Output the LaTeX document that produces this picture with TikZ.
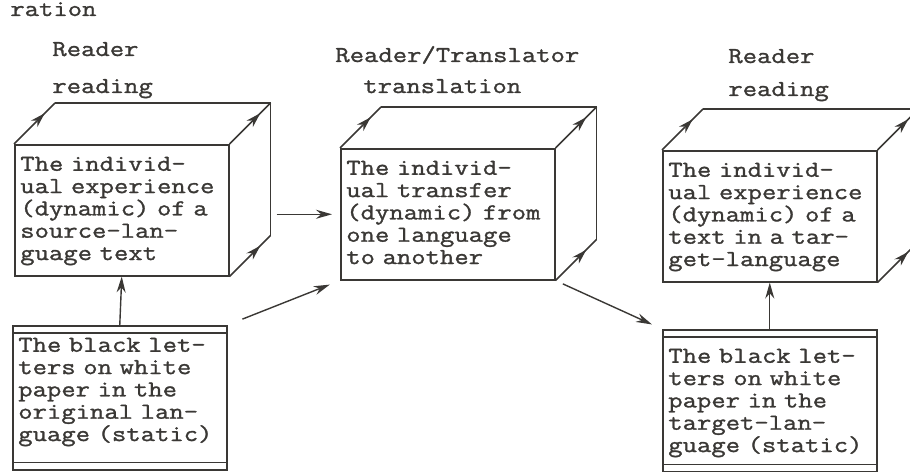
\documentclass[tikz,border=0pt]{standalone}
\usepackage{fontspec}
\setmonofont[FakeStretch=1.22,FakeBold=1.3]{Latin Modern Mono}
\usetikzlibrary{arrows.meta,decorations.markings}
\definecolor{ink}{HTML}{3A3835}
\newcommand\typew{\ttfamily\fontsize{13pt}{12.7pt}\selectfont}

\begin{document}
\begin{tikzpicture}[x=0.02cm,y=-0.02cm]
\tikzset{
  face/.style={draw=ink,line width=0.9pt,anchor=north west,align=left,text width=4.06cm,
    inner xsep=0.11cm,inner ysep=0.1cm,text height=0.42cm,text depth=2.0cm,font=\typew,text=ink},
  letters/.style={face},
  lbl/.style={anchor=base west,inner sep=0pt,font=\typew,text=ink},
  conn/.style={-{Stealth[length=3.2mm,width=1.8mm]},line width=0.8pt,ink},
  backedge/.style={line width=0.9pt,ink},
  depth/.style={backedge,postaction={decorate},
    decoration={markings,mark=at position 0.75 with {\arrow{Stealth[length=3mm,width=1.8mm]}}}}
}
\useasboundingbox (0,0) rectangle (910,472);
\node[lbl] (capt) at (10,16) {ration};
\node[lbl] (who1) at (52,56) {Reader};
\node[lbl] (act1) at (52,93) {reading};
\node[lbl] (who2) at (335,62) {Reader/Translator};
\node[lbl] (act2) at (363,93) {translation};
\node[lbl] (who3) at (728,63) {Reader};
\node[lbl] (act3) at (728,96) {reading};
\node[face] (exp1) at (14,144) {The individ-\\ual experience\\(dynamic) of a\\source-lan-\\guage text};
\node[face] (trans) at (340,148) {The individ-\\ual transfer\\(dynamic) from\\one language\\to another};
\node[face] (exp2) at (662,150) {The individ-\\ual experience\\(dynamic) of a\\text in a tar-\\get-language};
\node[letters,text height=0.42cm,text depth=2.26cm] (let1) at (12,325) {The black let-\\ters on white\\paper in the\\original lan-\\guage (static)};
\node[letters,text height=0.56cm,text depth=2.08cm] (let2) at (662,329) {The black let-\\ters on white\\paper in the\\target-lan-\\guage (static)};
\foreach \f in {exp1,trans,exp2}{
  \draw[backedge] ([shift={(41,-41)}]\f.north west) -- ([shift={(41,-41)}]\f.north east)
    -- ([shift={(41,-41)}]\f.south east);
  \draw[depth] (\f.north west) -- ++(41,-41);
  \draw[depth] (\f.north east) -- ++(41,-41);
  \draw[depth] (\f.south east) -- ++(41,-41);
}
\foreach \f in {let1,let2}{
  \draw[backedge] ([yshift=-0.16cm]\f.north west) -- ([yshift=-0.16cm]\f.north east);
  \draw[backedge] ([yshift=0.16cm]\f.south west) -- ([yshift=0.16cm]\f.south east);
}
\draw[conn] (let1.north) -- (exp1.south);
\draw[conn,shorten <=0.94cm,shorten >=0.16cm] (exp1.east |- trans.west) -- (trans.west);
\draw[conn,shorten <=0.32cm,shorten >=0.22cm] (let1.north east) -- (trans.south west);
\draw[conn,shorten <=0.16cm,shorten >=0.22cm] (trans.south east) -- (let2.north west);
\draw[conn] (let2.north) -- (let2.north |- exp2.south);
\end{tikzpicture}
\end{document}
